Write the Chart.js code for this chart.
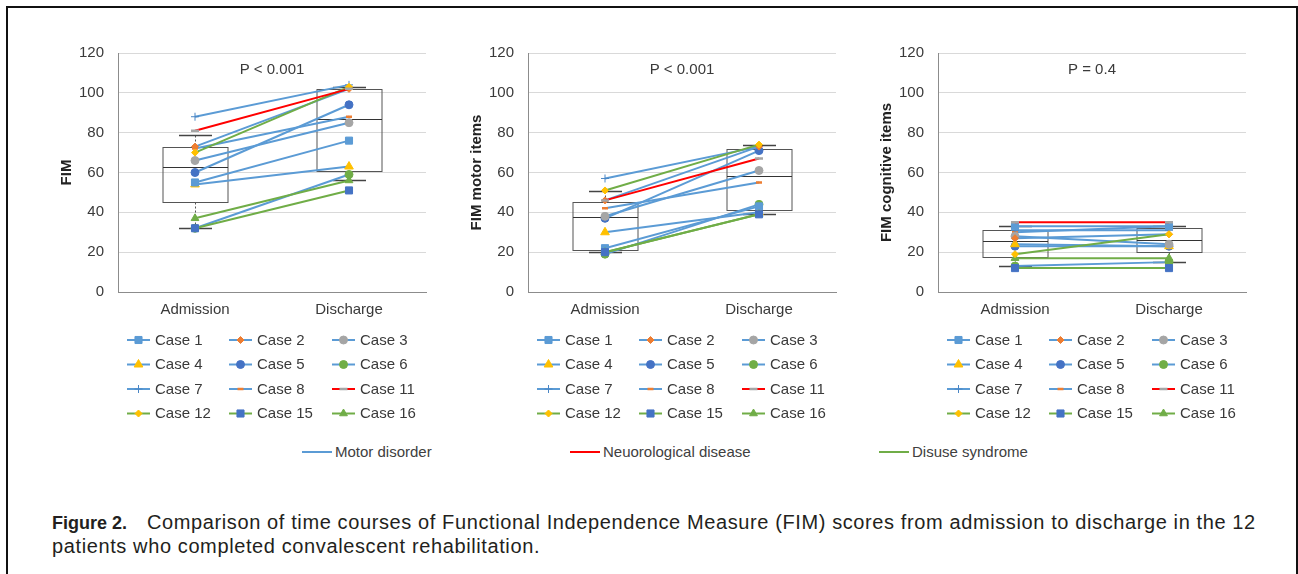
<!DOCTYPE html>
<html>
<head>
<meta charset="utf-8">
<script src="https://cdn.jsdelivr.net/npm/chart.js@4.4.1/dist/chart.umd.min.js"></script>
<style>
  body { margin: 0; width: 1298px; height: 574px; background: #fff; position: relative; overflow: hidden;
         font-family: 'Liberation Sans', Arial, sans-serif; }
  #frame { position: absolute; left: 6px; top: 6px; width: 1288px; height: 600px;
           border: 2px solid #111; border-bottom: none; }
  canvas { position: absolute; top: 30px; }
  .grp { position: absolute; top: 443px; font-size: 15px; color: #404040; line-height: 18px; white-space: nowrap; }
  .grp i { display: inline-block; width: 30px; height: 2px; vertical-align: middle; margin-right: 3px; position: relative; top: -1px; }
  #caption { position: absolute; left: 52px; top: 511px; font-size: 20px; line-height: 23px; color: #231f20; white-space: nowrap; }
  #caption b { font-size: 18px; margin-right: 20px; letter-spacing: 0; }
  #caption span { letter-spacing: 0.61px; }
</style>
</head>
<body>
<div id="frame"></div>
<canvas id="c0" width="410" height="400" style="left:30px"></canvas>
<canvas id="c1" width="410" height="400" style="left:440px"></canvas>
<canvas id="c2" width="410" height="400" style="left:850px"></canvas>
<div id="groups"></div>
<div id="caption"><b>Figure 2.</b><span>Comparison of time courses of Functional Independence Measure (FIM) scores from admission to discharge in the 12<br>patients who completed convalescent rehabilitation.</span></div>
<script>
// Data
const timeLabels = ['Admission', 'Discharge'];
const caseLabels = ['Case 1', 'Case 2', 'Case 3', 'Case 4', 'Case 5', 'Case 6', 'Case 7', 'Case 8', 'Case 11', 'Case 12', 'Case 15', 'Case 16'];
const caseGroup = [0, 0, 0, 0, 0, 0, 0, 0, 1, 2, 2, 2];
const groupLabels = ['Motor disorder', 'Neuorological disease', 'Disuse syndrome'];

const totalAdmission = [55, 73, 66, 54, 60, 32, 88, 72, 81, 70, 32, 37];
const totalDischarge = [76, 102, 85, 63, 94, 59, 104, 88, 102, 103, 51, 56];
const motorAdmission = [22, 46, 38, 30, 37, 19, 57, 42, 46, 51, 20, 20];
const motorDischarge = [43, 73, 61, 40, 71, 44, 73, 55, 67, 74, 39, 39];
const cognitiveAdmission = [33, 27, 28, 24, 23, 13, 31, 30, 35, 19, 12, 17];
const cognitiveDischarge = [33, 29, 24, 23, 23, 15, 31, 33, 35, 29, 12, 17];

// box stats: [whisker low, Q1, median, Q3, whisker high]
const totalBoxAdmission = [32, 45, 63, 73, 79];
const totalBoxDischarge = [56, 61, 87, 102, 103];
const motorBoxAdmission = [20, 21, 37.5, 45, 50.5];
const motorBoxDischarge = [39, 41, 58, 72, 74];
const cognitiveBoxAdmission = [13, 17.5, 25.5, 31, 33];
const cognitiveBoxDischarge = [15, 20, 26, 32, 33];

const yTitles = ['FIM', 'FIM motor items', 'FIM cognitive items'];
const pLabels = ['P < 0.001', 'P < 0.001', 'P = 0.4'];
const yMin = 0, yMax = 120, yStep = 20;

// styles
const groupColors = ['#5B9BD5', '#FF0000', '#70AD47'];
const markers = [
  { style: 'rect', color: '#5B9BD5', r: 5 },
  { style: 'rectRot', color: '#ED7D31', r: 3.5 },
  { style: 'circle', color: '#A5A5A5', r: 4 },
  { style: 'triangle', color: '#FFC000', r: 5 },
  { style: 'circle', color: '#4472C4', r: 4 },
  { style: 'circle', color: '#70AD47', r: 4 },
  { style: 'cross', color: '#4A86C5', r: 4, bw: 1 },
  { style: 'line', color: '#ED7D31', r: 3, bw: 2.5 },
  { style: 'line', color: '#A5A5A5', r: 4, bw: 2.5 },
  { style: 'rectRot', color: '#FFC000', r: 3.5 },
  { style: 'rect', color: '#4472C4', r: 5 },
  { style: 'triangle', color: '#70AD47', r: 4.5 }
];
const textColor = '#3a3a3a';
const font = "'Liberation Sans', Arial, sans-serif";

const boxPlugin = {
  id: 'boxPlot',
  beforeDatasetsDraw(chart, args, opts) {
    const { ctx, scales: { x, y } } = chart;
    const half = 32.5, cap = 16.5;
    ctx.save();
    opts.boxes.forEach((b, i) => {
      const cx = Math.round(x.getPixelForValue(i)) + 0.5;
      const [lo, q1, med, q3, hi] = b.map(v => Math.round(y.getPixelForValue(v)) + 0.5);
      ctx.strokeStyle = '#555';
      ctx.lineWidth = 1;
      ctx.setLineDash([2, 2]);
      ctx.beginPath();
      ctx.moveTo(cx, hi); ctx.lineTo(cx, q3);
      ctx.moveTo(cx, q1); ctx.lineTo(cx, lo);
      ctx.stroke();
      ctx.setLineDash([]);
      ctx.strokeRect(cx - half, q3, half * 2, q1 - q3);
      ctx.strokeStyle = '#333';
      ctx.beginPath();
      ctx.moveTo(cx - half, med); ctx.lineTo(cx + half, med);
      ctx.stroke();
      ctx.lineWidth = 1.5;
      ctx.strokeStyle = '#444';
      ctx.beginPath();
      ctx.moveTo(cx - cap, hi); ctx.lineTo(cx + cap, hi);
      ctx.moveTo(cx - cap, lo); ctx.lineTo(cx + cap, lo);
      ctx.stroke();
    });
    ctx.restore();
  },
  afterDraw(chart, args, opts) {
    const { ctx, chartArea } = chart;
    ctx.save();
    // p value
    ctx.fillStyle = textColor;
    ctx.font = '15px ' + font;
    ctx.textAlign = 'center';
    ctx.textBaseline = 'middle';
    ctx.fillText(opts.pText, (chartArea.left + chartArea.right) / 2, chartArea.top + 17);
    // case legend, 3 columns x 4 rows
    const colX = [9, 111, 214];
    const rowY = [310, 334.5, 359, 383.5];
    chart.data.datasets.forEach((ds, i) => {
      const lx = chartArea.left + colX[i % 3];
      const ly = rowY[Math.floor(i / 3)];
      ctx.strokeStyle = ds.borderColor;
      ctx.lineWidth = 2;
      ctx.beginPath();
      ctx.moveTo(lx, ly); ctx.lineTo(lx + 23, ly);
      ctx.stroke();
      const m = markers[i];
      ctx.fillStyle = m.color;
      ctx.strokeStyle = m.color;
      ctx.lineWidth = m.bw || 1;
      Chart.helpers.drawPoint(ctx, { pointStyle: m.style, radius: m.r, rotation: 0, borderWidth: m.bw || 1 }, lx + 11.5, ly);
      ctx.fillStyle = textColor;
      ctx.textAlign = 'left';
      ctx.fillText(ds.label, lx + 28, ly + 0.5);
    });
    ctx.restore();
  }
};

function makePanel(id, idx, admission, discharge, boxAdm, boxDis) {
  const datasets = caseLabels.map((label, i) => ({
    label,
    data: [admission[i], discharge[i]],
    borderColor: groupColors[caseGroup[i]],
    borderWidth: 2,
    tension: 0,
    order: caseGroup[i] === 0 ? 1 : 0,
    pointStyle: markers[i].style,
    pointRadius: markers[i].r,
    pointBackgroundColor: markers[i].color,
    pointBorderColor: markers[i].color,
    pointBorderWidth: markers[i].bw || 1
  }));
  new Chart(document.getElementById(id), {
    type: 'line',
    data: { labels: timeLabels, datasets },
    plugins: [boxPlugin],
    options: {
      responsive: false,
      animation: false,
      layout: { padding: { left: 28, right: 14, top: 22, bottom: 98 } },
      plugins: {
        legend: { display: false },
        tooltip: { enabled: false },
        boxPlot: { boxes: [boxAdm, boxDis], pText: pLabels[idx] }
      },
      scales: {
        x: {
          offset: true,
          grid: { display: false, drawTicks: false },
          border: { display: true, color: '#8c8c8c', width: 1 },
          ticks: { color: textColor, font: { family: font, size: 15 }, padding: 9 },
          afterFit(s) { s.height = 40; }
        },
        y: {
          min: yMin, max: yMax,
          grid: { color: '#d9d9d9', drawTicks: false },
          border: { display: true, color: '#8c8c8c', width: 1 },
          ticks: { stepSize: yStep, color: textColor, font: { family: font, size: 15 }, padding: 14 },
          title: { display: true, text: yTitles[idx], color: '#222', padding: 0,
                   font: { family: font, size: 15, weight: 'bold' } },
          afterFit(s) { s.width = 60; }
        }
      }
    }
  });
}

makePanel('c0', 0, totalAdmission, totalDischarge, totalBoxAdmission, totalBoxDischarge);
makePanel('c1', 1, motorAdmission, motorDischarge, motorBoxAdmission, motorBoxDischarge);
makePanel('c2', 2, cognitiveAdmission, cognitiveDischarge, cognitiveBoxAdmission, cognitiveBoxDischarge);

// disease group legend
const groupX = [302, 570, 879];
const groupsEl = document.getElementById('groups');
groupLabels.forEach((g, i) => {
  const d = document.createElement('div');
  d.className = 'grp';
  d.style.left = groupX[i] + 'px';
  d.innerHTML = '<i style="background:' + groupColors[i] + '"></i>' + g;
  groupsEl.appendChild(d);
});
</script>
</body>
</html>
